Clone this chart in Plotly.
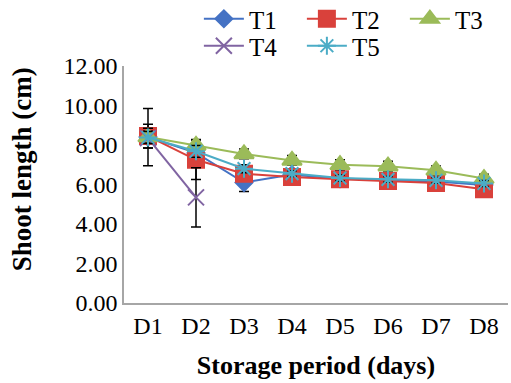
import plotly.graph_objects as go

days = ["D1", "D2", "D3", "D4", "D5", "D6", "D7", "D8"]
t1 = [8.40, 7.60, 6.10, 6.50, 6.30, 6.22, 6.15, 5.98]
t2 = [8.45, 7.25, 6.55, 6.38, 6.26, 6.18, 6.08, 5.76]
t3 = [8.40, 7.98, 7.55, 7.22, 7.00, 6.93, 6.72, 6.30]
t4 = [8.35, 5.35]
t5 = [8.38, 7.68, 6.80, 6.55, 6.33, 6.26, 6.21, 6.05]
t1_err = [1.45, 0.30, 0.45, 0.15, 0.15, 0.15, 0.15, 0.15]
t2_err = [0.60, 1.00, 0.20, 0.15, 0.15, 0.15, 0.15, 0.15]
t3_err = [0.30, 0.30, 0.25, 0.25, 0.25, 0.25, 0.22, 0.22]
t4_err = [0.50, 1.50]
t5_err = [0.30, 0.30, 0.20, 0.15, 0.15, 0.15, 0.15, 0.15]
y_ticks = [0, 2, 4, 6, 8, 10, 12]

serif = "Liberation Serif"
leg_serif = "Times New Roman, Liberation Serif, DejaVu Serif, serif"

series = [
    ("T1", t1, t1_err, "#4472C4", "diamond", 13, "legend"),
    ("T2", t2, t2_err, "#D9413B", "square", 16, "legend"),
    ("T3", t3, t3_err, "#9BBB59", "triangle-up", 17, "legend"),
    ("T4", t4, t4_err, "#8064A2", "x-thin", 16, "legend2"),
    ("T5", t5, t5_err, "#4BACC6", "asterisk", 15, "legend2"),
]

fig = go.Figure()
for name, vals, err, color, sym, sz, leg in series:
    fig.add_trace(go.Scatter(
        x=days[:len(vals)], y=vals, name=name, mode="lines+markers",
        legend=leg,
        line=dict(color=color, width=2),
        marker=dict(symbol=sym, size=sz, color=color,
                    line=dict(color=color, width=2)),
        error_y=dict(type="data", array=err, visible=True, color="black",
                     thickness=1.5, width=5),
    ))

fig.add_annotation(
    text="<b>Shoot length (cm)</b>", textangle=-90,
    xref="paper", yref="paper", x=-0.265, y=0.565,
    xanchor="center", yanchor="middle", showarrow=False,
    font=dict(family=serif, size=27, color="black"),
)

leg_common = dict(orientation="h", x=0.195, yref="container",
                  xanchor="left", yanchor="middle",
                  entrywidth=48, entrywidthmode="pixels",
                  font=dict(family=leg_serif, size=25, color="black"),
                  itemwidth=40, tracegroupgap=0, bgcolor="rgba(0,0,0,0)")

fig.update_layout(
    width=511, height=383,
    margin=dict(l=124, r=3, t=66, b=80, autoexpand=False),
    paper_bgcolor="white", plot_bgcolor="white",
    font=dict(family=serif, size=24, color="black"),
    showlegend=True,
    legend=dict(y=1 - 19 / 383, **leg_common),
    legend2=dict(y=1 - 46 / 383, **leg_common),
    xaxis=dict(type="category", range=[-0.5, 7.5], showline=True,
               linecolor="#A6A6A6", linewidth=2, ticks="", showgrid=False,
               tickfont=dict(family=serif, size=24),
               title=dict(text="<b>Storage period (days)</b>",
                          font=dict(family=serif, size=26), standoff=18)),
    yaxis=dict(range=[0, 12], tickvals=y_ticks, tickformat=".2f",
               showline=True, linecolor="#A6A6A6", linewidth=1.5, ticks="",
               showgrid=False, zeroline=False,
               tickfont=dict(family=serif, size=24)),
)

fig.write_html("out.html")
